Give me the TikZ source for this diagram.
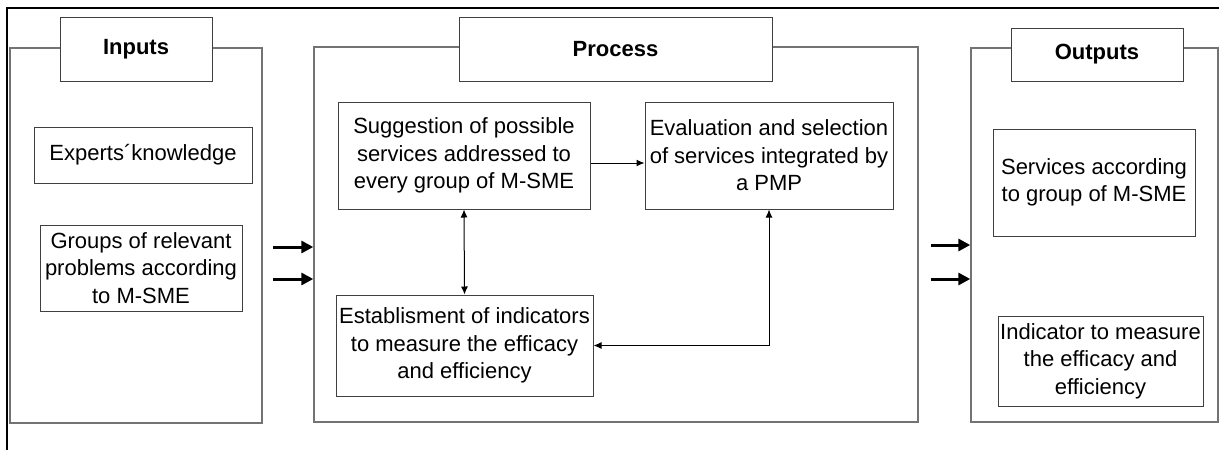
\documentclass[tikz,border=0pt]{standalone}
\usepackage{fontspec}
\setmainfont{Liberation Sans}
\usetikzlibrary{arrows.meta}

\begin{document}
\begin{tikzpicture}[x=0.5pt,y=-0.5pt,
  font=\fontsize{11}{13.7}\selectfont,
  cont/.style={draw=black!55,line width=0.7pt,inner sep=0pt},
  ttl/.style={draw=black!75,fill=white,line width=0.5pt,inner sep=0pt,font=\fontsize{11}{13.7}\selectfont\bfseries},
  box/.style={draw=black!75,fill=white,line width=0.5pt,inner sep=0pt,align=center},
  lnk/.style={line width=0.5pt,-{Latex[length=4pt,width=3.5pt]}},
  dlnk/.style={line width=0.5pt,{Latex[length=4pt,width=3.5pt]}-{Latex[length=4pt,width=3.5pt]}},
  big/.style={line width=1.5pt,-{Triangle[length=6pt,width=6pt]}}]
  \useasboundingbox (0,0) rectangle (1219,450);
  \draw[line width=1pt] (7,450) -- (7,8) -- (1219,8);

  \node[cont,minimum width=126pt,minimum height=187.5pt] (inbox) at (136,235.5) {};
  \node[cont,minimum width=302pt,minimum height=187.5pt] (prbox) at (616,234.5) {};
  \node[cont,minimum width=123.5pt,minimum height=187pt] (outbox) at (1094.5,235) {};

  \node[ttl,minimum width=76pt,minimum height=32pt] (in) at (136,49) {Inputs};
  \node[ttl,minimum width=156.5pt,minimum height=32pt] (pr) at (615.5,49) {Process};
  \node[ttl,minimum width=86pt,minimum height=26.5pt] (out) at (1097,54.5) {Outputs};

  \node[box,minimum width=109pt,minimum height=28pt] (exp) at (143,155) {Experts´knowledge};
  \node[box,minimum width=101pt,minimum height=43pt] (grp) at (141,268) {Groups of relevant\\problems according\\to M-SME};

  \node[box,minimum width=126pt,minimum height=53.5pt] (sug) at (464,155.5) {Suggestion of possible\\services addressed to\\every group of M-SME};
  \node[box,minimum width=124pt,minimum height=53.5pt] (eva) at (769,155.5) {Evaluation and selection\\of services integrated by\\a PMP};
  \node[box,minimum width=128.5pt,minimum height=50.5pt] (est) at (464.5,345.5) {Establisment of indicators\\to measure the efficacy\\and efficiency};

  \node[box,minimum width=101pt,minimum height=53.5pt] (srv) at (1094,182.5) {Services according\\to group of M-SME};
  \node[box,minimum width=102.5pt,minimum height=45pt] (ind) at (1100.5,361) {Indicator to measure\\the efficacy and\\efficiency};

  \draw[lnk] ([yshift=-3.75pt]sug.east) -- ([yshift=-3.75pt]eva.west);
  \draw[dlnk] (sug.south) -- (est.north);
  \draw[dlnk] (eva.south) |- (est.east);

  \coordinate (a1) at (273,247);
  \coordinate (a2) at (273,279);
  \coordinate (b1) at (931,245);
  \coordinate (b2) at (931,279);
  \draw[big] (a1) -- (a1 -| prbox.west);
  \draw[big] (a2) -- (a2 -| prbox.west);
  \draw[big] (b1) -- (b1 -| outbox.west);
  \draw[big] (b2) -- (b2 -| outbox.west);
\end{tikzpicture}
\end{document}
